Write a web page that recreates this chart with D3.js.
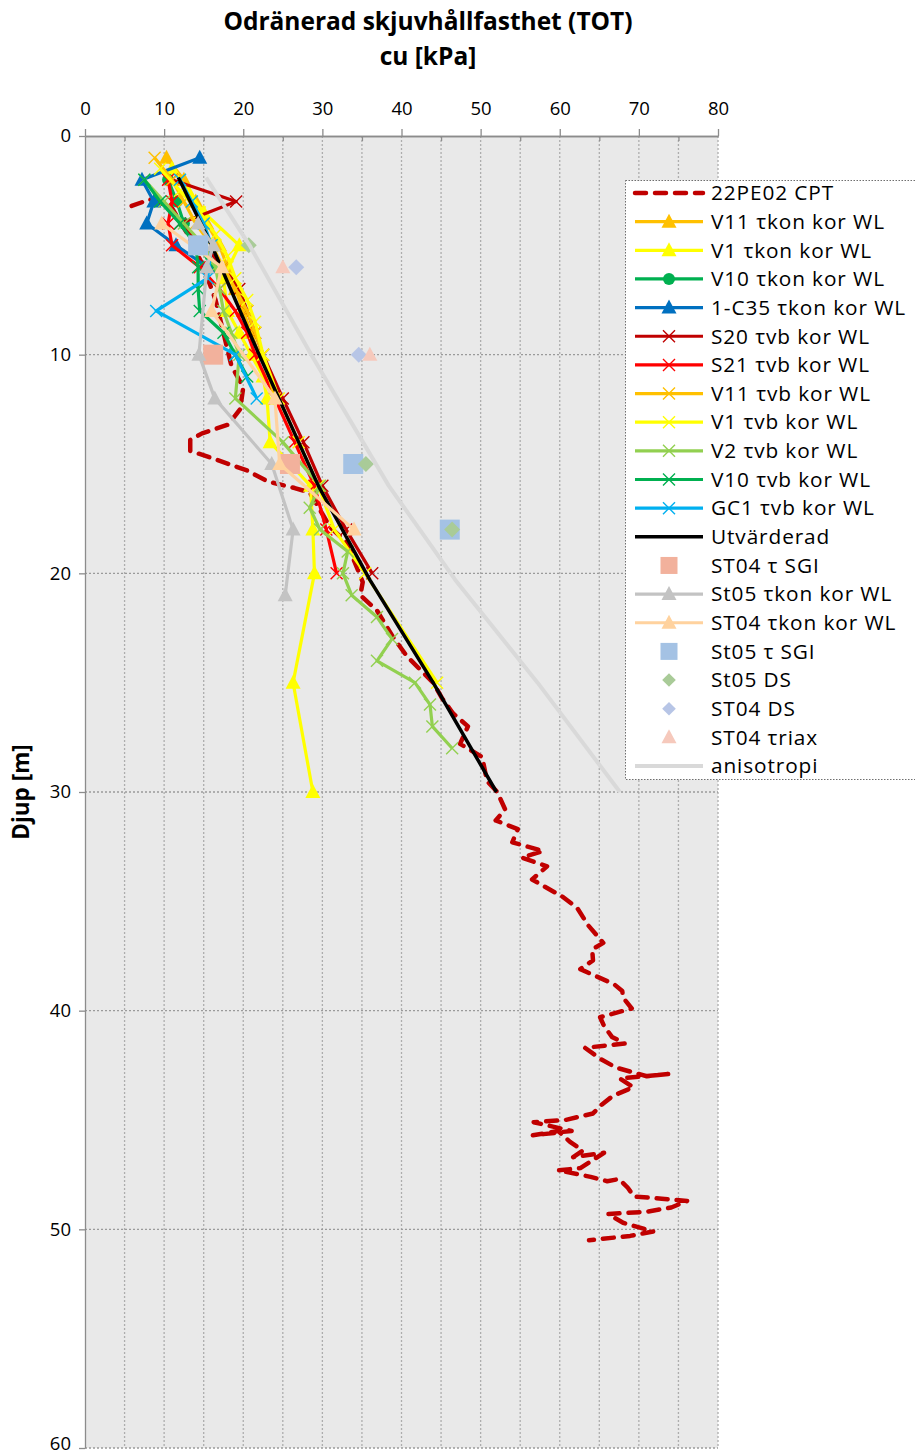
<!DOCTYPE html>
<html>
<head>
<meta charset="utf-8">
<script src="https://cdn.jsdelivr.net/npm/d3@7"></script>
<style>
  body { margin: 0; background: #fff; }
  text { font-family: "Open Sans", Lato, sans-serif; fill: #000; }
</style>
</head>
<body>
<svg id="chart" width="915" height="1456"></svg>
<script>
// tick values
var xTicks = [0, 10, 20, 30, 40, 50, 60, 70, 80]
var yTicks = [0, 10, 20, 30, 40, 50, 60]

// series, each point is [cu kPa, depth m]
var cpt22PE02 = [[5.9,3.2],[8.2,2.9],[11,3.3],[13,4.5],[15,6],[16.5,7.5],[17.5,9],[18.5,10.5],[20,11.5],[19.6,12.5],
  [18.1,13.2],[14.8,13.6],[13.3,13.9],[13.3,14.4],[15.8,14.7],[20.5,15.3],[23.1,15.8],[26.5,16.1],[28.4,16.3],
  [31,17.9],[33.1,18.6],[35.1,20.4],[34.8,21],[36.9,21.7],[38.9,22.9],[40.7,23.8],[44,25],[45.1,25.7],[46.5,26.4],
  [48.4,27],[47.4,27.8],[50.2,28.4],[50.8,29.5],[52.1,30],[53.1,30.8],[51.9,31.3],[54.7,31.7],[54,32.3],[57.9,32.7],
  [55.2,33],[58.4,33.4],[56.5,34],[60.4,34.8],[62.2,35.3],[63.6,36.1],[65.5,36.9],[64.1,37.2],[64.2,37.7],[62.6,38.1],
  [66.9,38.8],[67.9,39.1],[68,39.4],[69.1,39.9],[65.1,40.3],[65.6,40.7],[66.6,41.2],[68.2,41.5],[63.2,41.7],[65.1,42.2],
  [67.1,42.6],[71,43],[73.7,42.9],[67.6,43.1],[69.3,43.5],[66.7,43.9],[65.3,44.3],[64.2,44.7],[60.7,45],[56.7,45.1],
  [61.5,45.5],[56.6,45.7],[59.8,45.5],[61.3,46],[62.9,46.4],[61.7,46.7],[65.6,46.5],[62.6,47.2],[59.8,47.3],[63.9,47.6],
  [66,47.8],[67.5,47.7],[68.6,48.1],[69.4,48.5],[72.9,48.6],[76.1,48.7],[74.1,49],[70.9,49.2],[66.1,49.3],[68,49.7],
  [71.8,50.1],[68.9,50.3],[63.7,50.5]]
var v11Kon = [[10.3,1],[12.5,2],[14,3],[15.4,4],[17,5],[18,6],[19,7],[20,8],[21,9],[22,10]]
var v1Kon = [[11,1.5],[13,2.5],[15,3.5],[19.5,5],[17.5,6.5],[18,8],[19.5,9],[21,10],[22.5,11],[23,12],[23.4,14],
  [28.5,16],[28.8,18],[29,20],[26.3,25],[28.8,30]]
var v10Kon = [[10.5,2],[11.6,3],[12.5,4],[14.5,5],[16,6]]
var c35Kon = [[14.5,1],[7.2,2],[8.7,3],[7.8,4],[11.5,5],[15.5,6]]
var s20Vb = [[11,2],[19.1,3],[12,4],[15,5],[17.5,6],[19.5,7],[20.5,8],[21.5,9],[22.5,10],[25,12],[27.6,14],[30,16],[33,18],[36.3,20]]
var s21Vb = [[10.5,2],[11,3],[10.5,4],[11,5],[14.5,6],[17,7],[19,8],[20.5,9],[21.5,10],[24,12],[26.5,14],[29,16],[30.5,18],[31.8,20]]
var v11Vb = [[8.8,1],[11,2],[12.5,3],[14,4],[16,5],[17.5,6],[19,7],[20.5,8],[21.5,9],[22.5,10],[24,12]]
var v1Vb = [[9.5,1.5],[12,2.5],[14.5,3.5],[16.5,4.5],[18,5.5],[19,6.5],[20.5,7.5],[21.5,8.5],[22.5,10],[24.5,12],
  [27,14],[29.5,16],[31.5,18],[35.4,20],[44.5,25]]
var v2Vb = [[7.5,2],[10,3],[12.5,4],[15,5],[16.5,6],[17,7],[17.5,8],[18.5,9],[19.5,10],[19,12],[25,14],[29.7,16],
  [28.4,17],[29.7,18],[33.2,19],[32.6,20],[33.7,21],[36.9,22],[38.8,23],[36.9,24],[41.7,25],[43.6,26],[43.9,27],[46.4,28]]
var v10Vb = [[7.5,2],[9.5,3],[12,4],[14,5],[14.3,6],[14.3,7],[14.5,8],[17.5,9],[19,10],[20.5,11]]
var gc1Vb = [[12,2],[13.5,3],[15,4],[16,5],[15.5,6.5],[9,8],[19,10],[21.7,12]]
var utvarderad = [[11.8,1.9],[16,5],[22,10],[29.5,16],[36,20.3],[44,25],[52,30]]
var st04Sgi = [[16.2,10],[25.9,15]]
var st05Kon = [[14.3,4],[16.2,5],[15.4,6],[14.4,10],[16.4,12],[23.6,15],[26.3,18],[25.3,21]]
var st04Kon = [[9.7,4],[17.3,6],[16,8],[24,12],[24.6,15],[34,18]]
var st05Sgi = [[14.3,5],[33.9,15],[46.1,18]]
var st05Ds = [[20.7,5],[35.5,15],[46.4,18]]
var st04Ds = [[26.7,6],[34.6,10]]
var st04Triax = [[25,6],[36,10]]
var anisotropi = [[15.3,1.9],[20.8,5],[28.6,10],[38.4,16],[46.8,20.3],[57.2,25],[67.6,30]]

//series styles, legend order = drawing order
var series = [
  {name: "22PE02 CPT", data: cpt22PE02, color: "#C00000", width: 4.5, dash: "11,9", marker: null},
  {name: "V11 τkon kor WL", data: v11Kon, color: "#FFC000", width: 3.2, marker: "tri"},
  {name: "V1 τkon kor WL", data: v1Kon, color: "#FFFF00", width: 3.2, marker: "tri"},
  {name: "V10 τkon kor WL", data: v10Kon, color: "#00B050", width: 3.2, marker: "circle"},
  {name: "1-C35 τkon kor WL", data: c35Kon, color: "#0070C0", width: 3.2, marker: "tri"},
  {name: "S20 τvb kor WL", data: s20Vb, color: "#C00000", width: 3.2, marker: "x"},
  {name: "S21 τvb kor WL", data: s21Vb, color: "#FF0000", width: 3.2, marker: "x"},
  {name: "V11 τvb kor WL", data: v11Vb, color: "#FFC000", width: 3.2, marker: "x"},
  {name: "V1 τvb kor WL", data: v1Vb, color: "#FFFF00", width: 3.2, marker: "x"},
  {name: "V2 τvb kor WL", data: v2Vb, color: "#92D050", width: 3.2, marker: "x"},
  {name: "V10 τvb kor WL", data: v10Vb, color: "#00B050", width: 3.2, marker: "x"},
  {name: "GC1 τvb kor WL", data: gc1Vb, color: "#00B0F0", width: 3.2, marker: "x"},
  {name: "Utvärderad", data: utvarderad, color: "#000000", width: 3.5, marker: null},
  {name: "ST04 τ SGI", data: st04Sgi, color: "#F2B19C", width: 0, marker: "square"},
  {name: "St05 τkon kor WL", data: st05Kon, color: "#C3C3C3", width: 3.2, marker: "tri"},
  {name: "ST04 τkon kor WL", data: st04Kon, color: "#FFD29E", width: 3.2, marker: "tri"},
  {name: "St05 τ SGI", data: st05Sgi, color: "#A4C2E4", width: 0, marker: "square"},
  {name: "St05 DS", data: st05Ds, color: "#A9CB98", width: 0, marker: "diamond"},
  {name: "ST04 DS", data: st04Ds, color: "#B7C5E6", width: 0, marker: "diamond"},
  {name: "ST04 τriax", data: st04Triax, color: "#F6C9BC", width: 0, marker: "tri"},
  {name: "anisotropi", data: anisotropi, color: "#D9D9D9", width: 4, marker: null}
]

var svg = d3.select("#chart")

var plot = {left: 85, right: 718, top: 136, bottom: 1448}

var x = d3.scaleLinear().domain([0, 80]).range([plot.left, plot.right])
var y = d3.scaleLinear().domain([0, 60]).range([plot.top, plot.bottom])

//background
svg.append("rect")
   .attr("x", plot.left).attr("y", plot.top)
   .attr("width", plot.right - plot.left).attr("height", plot.bottom - plot.top)
   .attr("fill", "#E9E9E9")

//gridlines
var grid = svg.append("g")
grid.selectAll(".vgrid")
    .data(d3.range(5, 81, 5))
    .enter().append("line")
    .attr("x1", d => x(d)).attr("x2", d => x(d))
    .attr("y1", plot.top).attr("y2", plot.bottom)
    .attr("stroke", "#ADADAD").attr("stroke-width", 1.3).attr("stroke-dasharray", "2,2")
grid.selectAll(".hgrid")
    .data(d3.range(10, 61, 10))
    .enter().append("line")
    .attr("x1", plot.left).attr("x2", plot.right)
    .attr("y1", d => y(d)).attr("y2", d => y(d))
    .attr("stroke", "#9A9A9A").attr("stroke-width", 1.3).attr("stroke-dasharray", "2,2")

//axes
var xAxis = svg.append("g")
   .attr("transform", `translate(0,${plot.top})`)
   .call(d3.axisTop(x).tickValues(xTicks).tickSize(7).tickPadding(14).tickSizeOuter(0))
var xMinor = svg.append("g")
   .attr("transform", `translate(0,${plot.top})`)
   .call(d3.axisBottom(x).tickValues(d3.range(5, 80, 10)).tickSize(5).tickFormat("").tickSizeOuter(0))
var yAxis = svg.append("g")
   .attr("transform", `translate(${plot.left},0)`)
   .call(d3.axisLeft(y).tickValues(yTicks).tickSize(6).tickPadding(8).tickSizeOuter(0))

;[xAxis, xMinor, yAxis].forEach(function(a) {
    a.select(".domain").attr("stroke", "#8C8C8C").attr("stroke-width", 1.3)
    a.selectAll(".tick line").attr("stroke", "#8C8C8C").attr("stroke-width", 1.3)
    a.selectAll("text").attr("font-family", "'Open Sans', sans-serif").attr("font-size", 18.5).attr("fill", "#000")
})
//keep the last depth label inside the picture
yAxis.selectAll(".tick text").filter(d => d === 60).attr("dy", "0.1em")

//marker drawing
function drawMarker(g, type, cx, cy, color, s) {
    if (type === "tri") {
        g.append("path")
         .attr("d", `M${cx},${cy - 8*s}L${cx + 7.5*s},${cy + 6*s}L${cx - 7.5*s},${cy + 6*s}Z`)
         .attr("fill", color)
    } else if (type === "circle") {
        g.append("circle").attr("cx", cx).attr("cy", cy).attr("r", 6*s).attr("fill", color)
    } else if (type === "x") {
        g.append("path")
         .attr("d", `M${cx - 6*s},${cy - 6*s}L${cx + 6*s},${cy + 6*s}M${cx - 6*s},${cy + 6*s}L${cx + 6*s},${cy - 6*s}`)
         .attr("stroke", color).attr("stroke-width", 1.4).attr("fill", "none")
    } else if (type === "square") {
        g.append("rect").attr("x", cx - 10*s).attr("y", cy - 10*s)
         .attr("width", 20*s).attr("height", 20*s).attr("fill", color)
    } else if (type === "diamond") {
        g.append("path")
         .attr("d", `M${cx},${cy - 8*s}L${cx + 8*s},${cy}L${cx},${cy + 8*s}L${cx - 8*s},${cy}Z`)
         .attr("fill", color)
    }
}

//lines and markers
var lineGen = d3.line().x(d => x(d[0])).y(d => y(d[1]))
var marks = svg.append("g")
series.forEach(function(s) {
    var g = marks.append("g")
    if (s.width > 0) {
        g.append("path")
         .attr("d", lineGen(s.data))
         .attr("fill", "none")
         .attr("stroke", s.color)
         .attr("stroke-width", s.width)
         .attr("stroke-linejoin", "round")
         .attr("stroke-linecap", s.dash ? "round" : "butt")
         .attr("stroke-dasharray", s.dash || null)
    }
    if (s.marker) {
        s.data.forEach(d => drawMarker(g, s.marker, x(d[0]), y(d[1]), s.color, 1))
    }
})

//title
svg.append("text")
   .attr("x", 428).attr("y", 30)
   .attr("text-anchor", "middle").attr("font-size", 24.5).attr("font-weight", "bold")
   .text("Odränerad skjuvhållfasthet (TOT)")
svg.append("text")
   .attr("x", 428).attr("y", 65)
   .attr("text-anchor", "middle").attr("font-size", 24.5).attr("font-weight", "bold")
   .text("cu [kPa]")

//y label
svg.append("text")
   .attr("transform", `translate(29,${(plot.top + plot.bottom) / 2}) rotate(-90)`)
   .attr("text-anchor", "middle").attr("font-size", 22.5).attr("font-weight", "bold")
   .text("Djup [m]")

//legend
var legend = svg.append("g")
legend.append("rect")
      .attr("x", 625.5).attr("y", 180.5).attr("width", 300).attr("height", 599)
      .attr("fill", "#fff").attr("stroke", "#6F6F6F").attr("stroke-width", 1).attr("stroke-dasharray", "1.5,1.5")
series.forEach(function(s, i) {
    var ly = 193 + i * 28.65
    var g = legend.append("g")
    if (s.width > 0) {
        g.append("line")
         .attr("x1", 635).attr("x2", 703).attr("y1", ly).attr("y2", ly)
         .attr("stroke", s.color).attr("stroke-width", s.width)
         .attr("stroke-linecap", s.dash ? "round" : "butt")
         .attr("stroke-dasharray", s.dash || null)
    }
    if (s.marker) {
        var sc = (s.marker === "square") ? 0.85 : (s.marker === "diamond" ? 0.85 : 1)
        drawMarker(g, s.marker, 669, ly, s.color, sc)
    }
    g.append("text")
     .attr("x", 711).attr("y", ly).attr("dy", "0.35em")
     .attr("font-size", 20.8)
     .attr("letter-spacing", "0.9px")
     .text(s.name)
})
</script>
</body>
</html>
